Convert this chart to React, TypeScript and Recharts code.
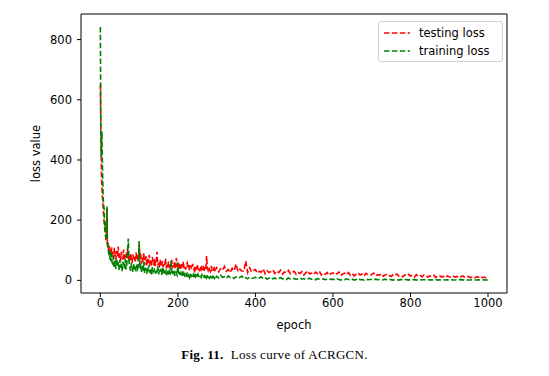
import React from "react";
import { LineChart, Line, XAxis, YAxis, ReferenceLine } from "recharts";

// epochs sampled from the curve (dense at the start where it is noisy)
const epochs = [
  0, 1, 2, 3, 4, 5, 6, 7, 8, 9, 10, 11, 12, 13, 14, 15, 16, 17, 18, 19, 20, 21, 22, 23, 24, 25, 26, 27, 28, 29, 30,
  32, 34, 36, 38, 40, 42, 44, 46, 48, 50, 52, 54, 56, 58, 60, 62, 64, 66, 68, 70, 72, 74, 76, 78, 80, 82, 84, 86, 88, 90, 92, 94, 96, 98,
  100, 102, 104, 106, 108, 110, 112, 114, 116, 118,
  120, 122, 124, 126, 128, 130, 132, 134, 136, 138,
  140, 142, 144, 146, 148, 150, 152, 154, 156, 158,
  160, 162, 164, 166, 168, 170, 172, 174, 176, 178,
  180, 182, 184, 186, 188, 190, 192, 194, 196, 198,
  200, 202, 204, 206, 208, 210, 212, 214, 216, 218,
  220, 222, 224, 226, 228, 230, 232, 234, 236, 238,
  240, 242, 244, 246, 248, 250, 252, 254, 256, 258,
  260, 262, 264, 266, 268, 270, 272, 274, 276, 278,
  280, 282, 284, 286, 288, 290, 292, 294, 296, 298,
  300, 305, 310, 315, 320, 325, 330, 335, 340, 345,
  350, 355, 360, 365, 370, 375, 380, 385, 390, 395,
  400, 405, 410, 415, 420, 425, 430, 435, 440, 445,
  450, 455, 460, 465, 470, 475, 480, 485, 490, 495,
  500, 505, 510, 515, 520, 525, 530, 535, 540, 545,
  550, 555, 560, 565, 570, 575, 580, 585, 590, 595,
  600, 605, 610, 615, 620, 625, 630, 635, 640, 645,
  650, 655, 660, 665, 670, 675, 680, 685, 690, 695,
  700, 705, 710, 715, 720, 725, 730, 735, 740, 745,
  750, 755, 760, 765, 770, 775, 780, 785, 790, 795,
  800, 805, 810, 815, 820, 825, 830, 835, 840, 845,
  850, 855, 860, 865, 870, 875, 880, 885, 890, 895,
  900, 905, 910, 915, 920, 925, 930, 935, 940, 945,
  950, 955, 960, 965, 970, 975, 980, 985, 990, 995,
  1000,
];

const testingLoss = [
  650, 540, 450, 340, 310, 285, 262, 240, 225, 205, 190, 175, 160, 150, 140, 130, 155, 240, 120, 110, 125, 100, 95, 115, 90, 85, 105, 80, 92, 110, 78,
  95, 72, 108, 85, 68, 98, 80, 112, 75, 88, 64, 95, 78, 70, 102, 66, 85, 74, 96, 105, 70, 82, 62, 90, 72, 58, 86, 68, 78, 60, 92, 70, 84, 64,
  120, 70, 88, 55, 76, 62, 92, 50, 68, 80,
  48, 72, 58, 85, 52, 66, 45, 78, 60, 54,
  70, 48, 62, 95, 50, 58, 42, 68, 55, 46,
  64, 44, 58, 50, 72, 40, 55, 48, 62, 42,
  56, 46, 68, 40, 52, 60, 38, 48, 74, 44,
  50, 38, 58, 45, 36, 54, 42, 62, 40, 48,
  36, 52, 58, 40, 46, 34, 50, 42, 38, 55,
  40, 33, 48, 36, 44, 52, 35, 42, 30, 46,
  38, 50, 34, 42, 32, 45, 36, 81, 40, 33,
  44, 35, 30, 48, 36, 40, 32, 46, 34, 38,
  42, 28, 38, 33, 46, 30, 36, 26, 40, 32,
  54, 29, 37, 31, 30, 64, 26, 42, 28, 33,
  36, 24, 30, 27, 38, 22, 32, 26, 29, 35,
  23, 31, 26, 34, 21, 28, 25, 33, 22, 27,
  30, 20, 26, 23, 29, 18, 25, 32, 21, 24,
  19, 27, 22, 30, 18, 24, 20, 26, 17, 23,
  25, 18, 22, 28, 16, 21, 24, 19, 26, 17,
  22, 15, 20, 25, 18, 21, 14, 23, 19, 16,
  20, 24, 15, 19, 17, 22, 14, 18, 21, 16,
  13, 19, 16, 21, 14, 17, 12, 18, 15, 20,
  14, 17, 11, 19, 13, 16, 12, 18, 14, 11,
  15, 12, 17, 10, 14, 16, 11, 13, 9, 15,
  12, 10, 14, 11, 13, 9, 12, 15, 10, 11,
  13, 9, 11, 8, 12, 10, 14, 9, 11, 8,
  10,
];

const trainingLoss = [
  842, 500, 410, 470, 495, 400, 335, 285, 255, 245, 230, 190, 165, 195, 150, 140, 170, 245, 125, 105, 118, 92, 85, 98, 70, 82, 95, 64, 75, 88, 60,
  55, 78, 45, 66, 38, 72, 50, 60, 35, 68, 42, 58, 30, 62, 48, 40, 70, 36, 52, 90, 139, 60, 44, 32, 58, 40, 28, 55, 36, 48, 30, 52, 38, 45,
  131, 40, 55, 28, 48, 32, 62, 25, 42, 35,
  22, 45, 30, 52, 24, 38, 20, 44, 28, 33,
  40, 22, 35, 26, 48, 20, 30, 24, 38, 18,
  42, 20, 32, 24, 18, 36, 22, 28, 16, 30,
  25, 64, 20, 32, 18, 26, 15, 30, 22, 17,
  60, 18, 28, 14, 24, 16, 30, 12, 22, 15,
  20, 12, 26, 14, 18, 10, 22, 13, 16, 11,
  19, 10, 24, 12, 16, 9, 20, 13, 11, 17,
  10, 18, 12, 8, 15, 11, 20, 9, 14, 10,
  16, 8, 13, 10, 18, 9, 12, 7, 14, 10,
  14, 8, 17, 10, 12, 7, 15, 9, 11, 6,
  12, 7, 10, 14, 6, 9, 5, 11, 7, 8,
  10, 5, 8, 12, 6, 9, 4, 7, 10, 5,
  8, 4, 7, 9, 5, 6, 3, 8, 5, 7,
  6, 3, 5, 8, 4, 6, 2, 5, 7, 3,
  5, 2, 6, 4, 3, 5, 2, 4, 6, 3,
  4, 2, 5, 3, 1, 4, 2, 5, 3, 2,
  4, 1, 3, 5, 2, 3, 1, 4, 2, 3,
  3, 1, 4, 2, 3, 1, 2, 4, 1, 3,
  2, 1, 3, 2, 1, 3, 1, 2, 3, 1,
  2, 1, 3, 1, 2, 1, 2, 3, 1, 2,
  1, 2, 1, 3, 1, 2, 1, 2, 1, 2,
  1, 2, 1, 1, 2, 1, 3, 1, 2, 1,
  1, 1, 2, 1, 1, 2, 1, 1, 2, 1,
  1,
];

const xTicks = [0, 200, 400, 600, 800, 1000];
const yTicks = [0, 200, 400, 600, 800];
const X_DOMAIN: [number, number] = [-50, 1049];
const Y_DOMAIN: [number, number] = [-42, 885];

const data = epochs.map((epoch, i) => ({
  epoch,
  testing: testingLoss[i],
  training: trainingLoss[i],
}));

const FONT = "'DejaVu Sans', sans-serif";
const tickStyle = { fontSize: 11.5, fill: "#000", fontFamily: FONT };

const legendItems = [
  { label: "testing loss", color: "#ff0000" },
  { label: "training loss", color: "#008000" },
];

function LegendBox() {
  return (
    <div
      style={{
        position: "absolute",
        left: 378,
        top: 21,
        width: 123,
        height: 39,
        border: "1px solid #d0d0d0",
        borderRadius: 3,
        background: "rgba(255,255,255,0.8)",
        fontFamily: FONT,
        fontSize: 11.5,
        color: "#000",
      }}
    >
      {legendItems.map((item, i) => (
        <div
          key={item.label}
          style={{ display: "flex", alignItems: "center", height: 18, marginTop: i === 0 ? 2 : 0 }}
        >
          <svg width={36} height={10} style={{ marginLeft: 4 }}>
            <line x1={1} y1={5} x2={27} y2={5} stroke={item.color} strokeWidth={1.5} strokeDasharray="5.5 2.4" />
          </svg>
          <span>{item.label}</span>
        </div>
      ))}
    </div>
  );
}

export default function App() {
  return (
    <div style={{ position: "absolute", left: 0, top: 0, width: 549, height: 376, background: "#fff" }}>
      <LineChart
        width={549}
        height={376}
        data={data}
        margin={{ top: 14, right: 42, bottom: 43, left: 0 }}
      >
        <XAxis
          dataKey="epoch"
          type="number"
          domain={X_DOMAIN}
          ticks={xTicks}
          allowDataOverflow
          tick={tickStyle}
          tickSize={4}
          tickMargin={2}
          stroke="#000"
          height={40}
          label={{ value: "epoch", position: "insideBottom", offset: 4, style: { fontSize: 11.5, fill: "#000", fontFamily: FONT } }}
        />
        <YAxis
          type="number"
          domain={Y_DOMAIN}
          ticks={yTicks}
          allowDataOverflow
          tick={tickStyle}
          tickSize={4}
          tickMargin={5}
          stroke="#000"
          width={81}
          label={{
            content: () => (
              <text
                x={36}
                y={153.5}
                transform="rotate(-90 36 153.5)"
                textAnchor="middle"
                dominantBaseline="central"
                style={{ fontSize: 11.5, fill: "#000", fontFamily: FONT }}
              >
                loss value
              </text>
            ),
          }}
        />
        {/* top and right spines of the frame */}
        <ReferenceLine y={Y_DOMAIN[1]} stroke="#000" ifOverflow="extendDomain" />
        <ReferenceLine x={X_DOMAIN[1]} stroke="#000" ifOverflow="extendDomain" />
        <Line
          dataKey="testing"
          type="linear"
          stroke="#ff0000"
          strokeWidth={1.6}
          strokeDasharray="5.5 2.4"
          dot={false}
          activeDot={false}
          isAnimationActive={false}
        />
        <Line
          dataKey="training"
          type="linear"
          stroke="#008000"
          strokeWidth={1.6}
          strokeDasharray="5.5 2.4"
          dot={false}
          activeDot={false}
          isAnimationActive={false}
        />
      </LineChart>
      <LegendBox />
      <div
        style={{
          position: "absolute",
          left: 0,
          top: 347,
          width: 549,
          textAlign: "center",
          fontFamily: "'Liberation Serif', serif",
          fontSize: 13,
          letterSpacing: 0.3,
          color: "#000",
        }}
      >
        <b>Fig. 11.</b>&nbsp; Loss curve of ACRGCN.
      </div>
    </div>
  );
}
